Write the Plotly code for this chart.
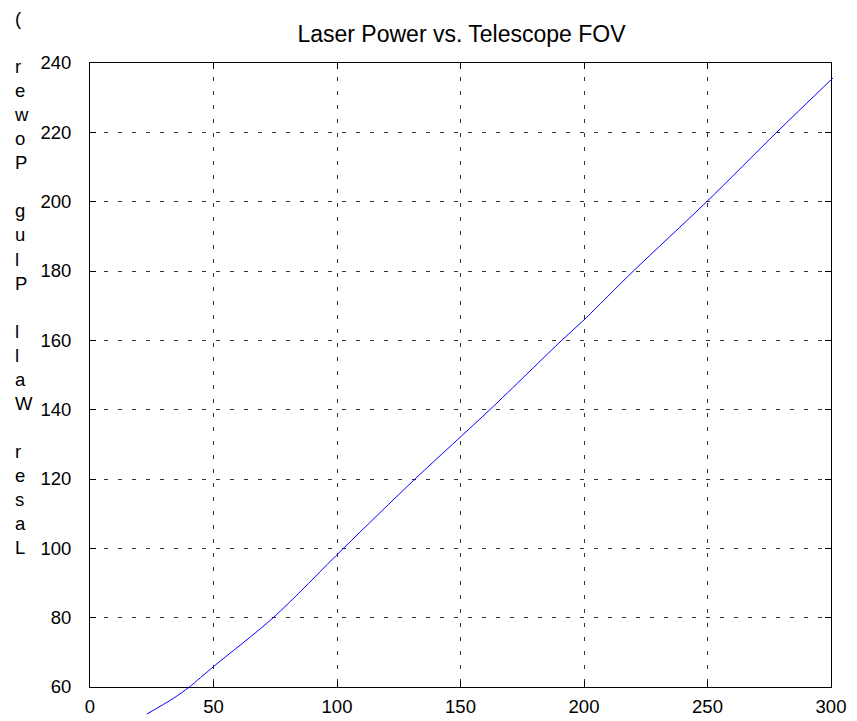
import plotly.graph_objects as go

# Telescope field of view and the laser wall-plug power it requires
fov = [23.0, 33.7, 40.2, 50.0, 74.2, 102.6, 131.6, 161.9, 191.0, 200.0,
       220.0, 249.7, 278.0, 300.8]
power = [52.2, 56.7, 60.0, 65.9, 80.0, 100.0, 120.0, 140.0, 160.0, 165.9,
         180.0, 200.0, 220.0, 235.7]

x_ticks = [0, 50, 100, 150, 200, 250, 300]
y_ticks = [60, 80, 100, 120, 140, 160, 180, 200, 220, 240]
x_range = [0, 300]
y_range = [60, 240]

title_text = "Laser Power vs. Telescope FOV"
ylabel_text = "Laser Wall Plug Power ("

FONT = "Liberation Sans, Arial, Helvetica, sans-serif"

# page and axes box geometry (pixels)
W, H = 857, 721
ml, mr, mt, mb = 90, 22, 63, 5
box_w, box_h = 741, 624
pw, ph = W - ml - mr, H - mt - mb

x_dom = [0, box_w / pw]
y_dom = [1 - box_h / ph, 1]
# unclipped drawing axes share the same scale but span the whole paper area
x2_range = [x_range[0], x_range[0] + (x_range[1] - x_range[0]) * pw / box_w]
y2_range = [y_range[1] - (y_range[1] - y_range[0]) * ph / box_h, y_range[1]]

fig = go.Figure()

# empty trace so the framed axes are rendered
fig.add_trace(go.Scatter(x=[None], y=[None], xaxis="x", yaxis="y",
                         showlegend=False, hoverinfo="skip"))

fig.add_trace(go.Scatter(
    x=fov, y=power, mode="lines", xaxis="x2", yaxis="y2",
    line=dict(color="#0000ff", width=1, shape="spline", smoothing=0.8),
    showlegend=False,
))

axis_common = dict(
    showline=True, linecolor="black", linewidth=1, mirror="ticks",
    ticks="inside", ticklen=6, tickwidth=1, tickcolor="black",
    showgrid=True, gridcolor="#333333", gridwidth=1, griddash="4px,10px",
    zeroline=False, automargin=False,
    tickfont=dict(family=FONT, size=18.5, color="black"),
)

fig.update_layout(
    width=W, height=H,
    margin=dict(l=ml, r=mr, t=mt, b=mb, autoexpand=False),
    paper_bgcolor="white", plot_bgcolor="rgba(0,0,0,0)",
    font=dict(family=FONT, color="black"),
    xaxis=dict(domain=x_dom, range=x_range, tickvals=x_ticks, anchor="y",
               ticklabelstandoff=3, **axis_common),
    yaxis=dict(domain=y_dom, range=y_range, tickvals=y_ticks, anchor="x",
               ticklabelstandoff=14, **axis_common),
    xaxis2=dict(domain=[0, 1], range=x2_range, anchor="y2", visible=False,
                automargin=False),
    yaxis2=dict(domain=[0, 1], range=y2_range, anchor="x2", visible=False,
                automargin=False),
    title=dict(text=title_text, font=dict(family=FONT, size=23, color="black"),
               xref="paper", x=(461.5 - ml) / pw, xanchor="center",
               yref="container", y=1 - 34 / H, yanchor="middle",
               automargin=False),
    annotations=[dict(
        text="<br>".join(reversed(ylabel_text)),
        xref="paper", yref="paper",
        x=(12 - ml) / pw, y=(H - mb - 282.5) / ph,
        xanchor="left", yanchor="middle", align="left", showarrow=False,
        font=dict(family=FONT, size=18.5, color="black"),
    )],
)

fig.write_html("out.html")
